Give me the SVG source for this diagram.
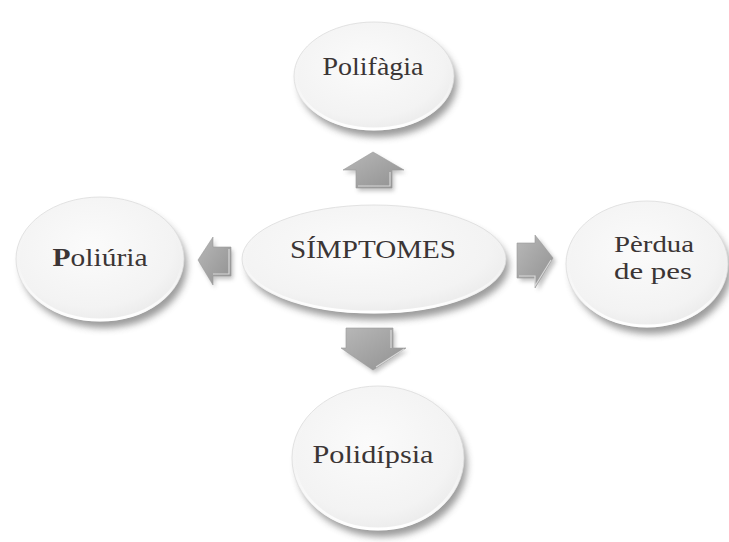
<svg xmlns="http://www.w3.org/2000/svg" width="729" height="542" viewBox="0 0 729 542">
  <defs>
    <radialGradient id="discFill" cx="0.45" cy="0.4" r="0.65">
      <stop offset="0" stop-color="#fbfbfb"/>
      <stop offset="0.75" stop-color="#f3f3f3"/>
      <stop offset="1" stop-color="#e9e9e9"/>
    </radialGradient>
    <linearGradient id="rimGrad" x1="0" y1="0" x2="0" y2="1">
      <stop offset="0" stop-color="#ffffff" stop-opacity="0"/>
      <stop offset="0.55" stop-color="#ffffff" stop-opacity="0.1"/>
      <stop offset="1" stop-color="#ffffff" stop-opacity="1"/>
    </linearGradient>
    <linearGradient id="arrowFill" x1="0" y1="0" x2="1" y2="1">
      <stop offset="0" stop-color="#b8b8b8"/>
      <stop offset="1" stop-color="#919191"/>
    </linearGradient>
    <filter id="soft" x="-30%" y="-30%" width="160%" height="160%">
      <feGaussianBlur stdDeviation="3.5"/>
    </filter>
    <filter id="softSmall" x="-30%" y="-30%" width="160%" height="160%">
      <feGaussianBlur stdDeviation="2"/>
    </filter>
  </defs>
  <style>
    .shadow { fill: #5a5a5a; opacity: 0.6; filter: url(#soft); }
    .disc { fill: url(#discFill); }
    .rim { fill: none; stroke: url(#rimGrad); stroke-width: 3; }
    .edge { fill: none; stroke: #dcdcdc; stroke-width: 0.8; }
    .label { font-family: "Liberation Serif", "Times New Roman", serif; font-size: 25px; fill: #3b3535; text-anchor: middle; }
    .small { font-size: 23px; }
    .arrow { fill: url(#arrowFill); stroke: #9a9a9a; stroke-width: 0.6; }
    .arrowShadow { fill: #777; opacity: 0.45; filter: url(#softSmall); }
    .bevel { fill: none; stroke: #e6e6e6; stroke-width: 1.2; opacity: 0.8; }
  </style>

  <!-- connectors: block arrows pointing from the centre to each symptom -->
  <g id="connectors">
    <!-- up -->
    <path class="arrowShadow" d="M375,155 L406,173 L394,173 L394,191 L358,191 L358,173 L345,173 Z"/>
    <path class="arrow" d="M373,152 L404,170 L392,170 L392,188 L356,188 L356,170 L343,170 Z"/>
    <path class="bevel" d="M358,186 L390,186 L390,172"/>
    <!-- left -->
    <path class="arrowShadow" d="M200,263 L215,240 L215,250 L233,250 L233,279 L215,279 L215,288 Z"/>
    <path class="arrow" d="M198,260 L213,237 L213,247 L231,247 L231,276 L213,276 L213,285 Z"/>
    <path class="bevel" d="M229,249 L229,274 L213,274"/>
    <!-- right -->
    <path class="arrowShadow" d="M556,261 L538,238 L538,246 L520,246 L520,281 L538,281 L538,291 Z"/>
    <path class="arrow" d="M553,258 L535,235 L535,243 L517,243 L517,278 L535,278 L535,288 Z"/>
    <path class="bevel" d="M519,276 L535,276 L535,286 L551,260"/>
    <!-- down -->
    <path class="arrowShadow" d="M375,373 L408,351 L395,351 L395,331 L348,331 L348,351 L343,351 Z"/>
    <path class="arrow" d="M373,370 L406,348 L393,348 L393,328 L346,328 L346,348 L341,348 Z"/>
    <path class="bevel" d="M391,330 L391,348 M376,367 L404,349"/>
  </g>

  <!-- centre node -->
  <g id="node-simptomes">
    <ellipse class="shadow" cx="378" cy="266" rx="131" ry="54"/>
    <ellipse class="disc" cx="374" cy="259" rx="132" ry="54"/>
    <ellipse class="edge" cx="374" cy="259" rx="132" ry="54"/>
    <ellipse class="rim" cx="374" cy="260" rx="130" ry="52"/>
    <text class="label" x="373" y="258" textLength="166" lengthAdjust="spacingAndGlyphs">SÍMPTOMES</text>
  </g>

  <!-- top node -->
  <g id="node-polifagia">
    <ellipse class="shadow" cx="378" cy="83" rx="79" ry="54"/>
    <ellipse class="disc" cx="374" cy="76" rx="80" ry="54"/>
    <ellipse class="edge" cx="374" cy="76" rx="80" ry="54"/>
    <ellipse class="rim" cx="374" cy="77" rx="78" ry="52"/>
    <text class="label" x="373" y="75" textLength="101" lengthAdjust="spacingAndGlyphs">Polifàgia</text>
  </g>

  <!-- left node -->
  <g id="node-poliuria">
    <ellipse class="shadow" cx="104" cy="266" rx="83" ry="62"/>
    <ellipse class="disc" cx="100" cy="259" rx="84" ry="62"/>
    <ellipse class="edge" cx="100" cy="259" rx="84" ry="62"/>
    <ellipse class="rim" cx="100" cy="260" rx="82" ry="60"/>
    <text class="label" x="100" y="266" textLength="95" lengthAdjust="spacingAndGlyphs"><tspan font-weight="bold">P</tspan>oliúria</text>
  </g>

  <!-- right node -->
  <g id="node-perdua">
    <ellipse class="shadow" cx="651" cy="271" rx="80" ry="63"/>
    <ellipse class="disc" cx="647" cy="264" rx="81" ry="63"/>
    <ellipse class="edge" cx="647" cy="264" rx="81" ry="63"/>
    <ellipse class="rim" cx="647" cy="265" rx="79" ry="61"/>
    <text class="label small" x="654" y="252" textLength="80" lengthAdjust="spacingAndGlyphs">Pèrdua</text>
    <text class="label small" x="653" y="279" textLength="78" lengthAdjust="spacingAndGlyphs">de pes</text>
  </g>

  <!-- bottom node -->
  <g id="node-polidipsia">
    <ellipse class="shadow" cx="382" cy="465" rx="85" ry="72"/>
    <ellipse class="disc" cx="378" cy="458" rx="86" ry="72"/>
    <ellipse class="edge" cx="378" cy="458" rx="86" ry="72"/>
    <ellipse class="rim" cx="378" cy="459" rx="84" ry="70"/>
    <text class="label" x="373" y="463" textLength="121" lengthAdjust="spacingAndGlyphs">Polidípsia</text>
  </g>
</svg>
